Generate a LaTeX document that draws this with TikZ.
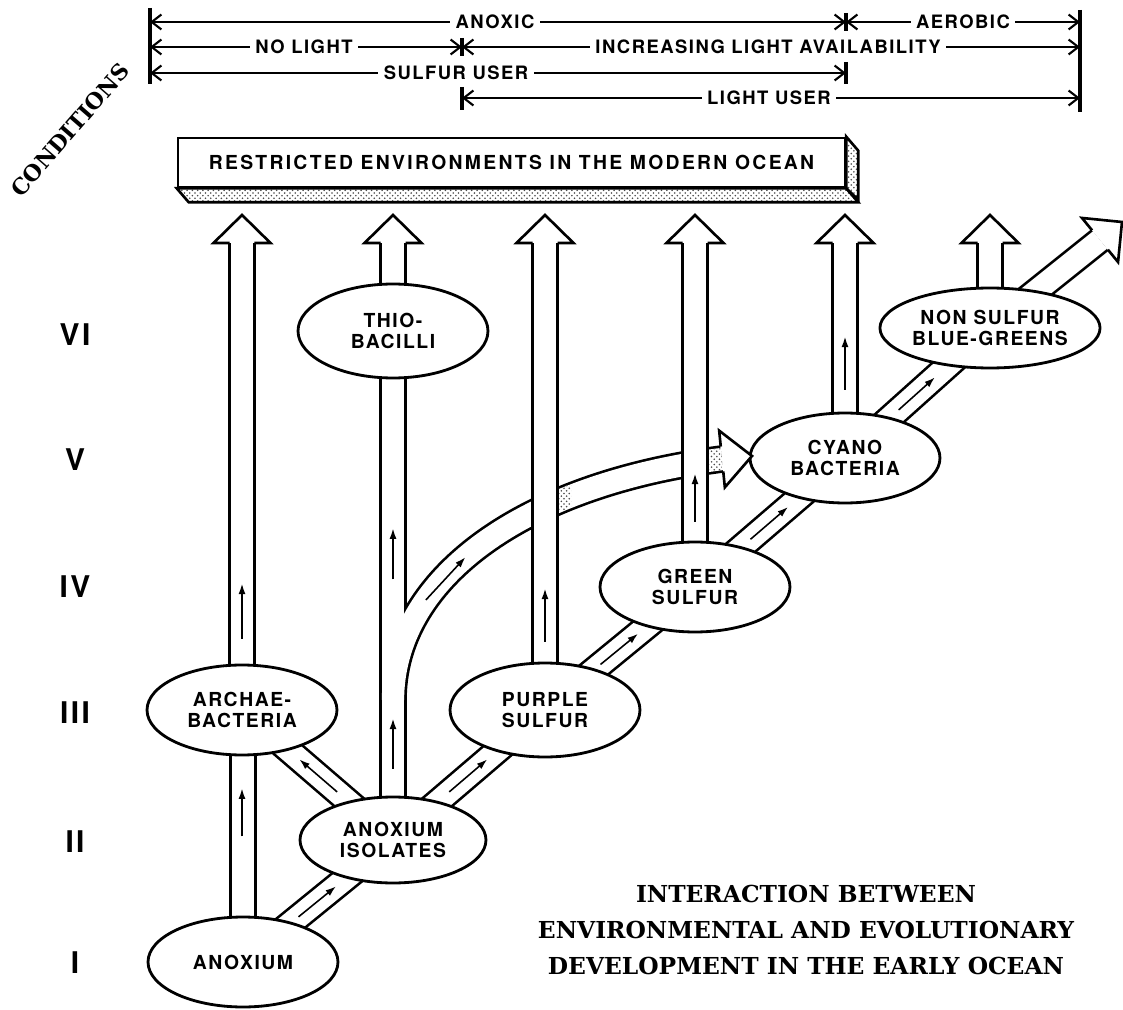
\documentclass[tikz,border=0pt]{standalone}
\usepackage{fontspec}
\usetikzlibrary{calc,shapes.geometric,arrows.meta,patterns}
\newfontfamily\lblfont[LetterSpace=8]{TeX Gyre Heros}
\newfontfamily\boxfont[LetterSpace=12]{TeX Gyre Heros}
\newfontfamily\ttlfont{DejaVu Serif}
\pgfdeclarelayer{tubeblack}
\pgfdeclarelayer{tubewhite}
\pgfdeclarelayer{shaftblack}
\pgfdeclarelayer{shaftwhite}
\pgfsetlayers{tubeblack,tubewhite,shaftblack,shaftwhite,main}

\tikzset{
  org/.style={ellipse, draw, fill=white, line width=1.6pt, minimum width=3.8cm, minimum height=1.8cm,
    inner sep=0pt, align=center, font=\lblfont\bfseries\fontsize{11}{11.5}\selectfont},
  tubeout/.style={line width=15.7pt, black},
  tubein/.style={line width=12.7pt, white},
  flow/.style={line width=0.9pt, -{Latex[length=6pt,width=4pt]}},
  dim/.style={line width=1.2pt, {Straight Barb[length=5.5pt,width=8.5pt]}-{Straight Barb[length=5.5pt,width=8.5pt]}},
  bar/.style={line width=1.8pt},
  scalelbl/.style={fill=white, inner xsep=3pt, inner ysep=1pt, font=\lblfont\bfseries\fontsize{10.5}{12}\selectfont},
  level/.style={font=\lblfont\bfseries\fontsize{17}{17}\selectfont},
  stipple/.style={pattern=crosshatch dots, pattern color=black!70}
}
\newcommand\hollowhead[2]{%
  \draw[fill=white, line width=1.5pt] ($(#1)!0.25cm!90:(#2)$) -- ($(#1)!0.57cm!90:(#2)$) -- (#2)
    -- ($(#1)!0.57cm!-90:(#2)$) -- ($(#1)!0.25cm!-90:(#2)$);}

\begin{document}
\begin{tikzpicture}[x=0.02cm, y=-0.02cm]
\useasboundingbox (0,0) rectangle (1123,1010);

% conditions scale
\draw[dim] (150,22) -- (846,22);
\draw[dim] (846,22) -- (1080,22);
\draw[dim] (150,47) -- (462,47);
\draw[dim] (462,47) -- (1080,47);
\draw[dim] (150,73) -- (846,73);
\draw[dim] (462,98) -- (1080,98);
\draw[bar] (150,8) -- (150,84);
\draw[bar] (1080,10) -- (1080,112);
\draw[bar] (462,38) -- (462,56);
\draw[bar] (462,87) -- (462,110);
\draw[bar] (846,13) -- (846,31);
\draw[bar] (846,62) -- (846,84);
\node[scalelbl] (anoxic) at (495,22) {ANOXIC};
\node[scalelbl] (aerobic) at (963,22) {AEROBIC};
\node[scalelbl] (nolight) at (304,47) {NO LIGHT};
\node[scalelbl] (inclight) at (768,47) {INCREASING LIGHT AVAILABILITY};
\node[scalelbl] (sulfuser) at (456,73) {SULFUR USER};
\node[scalelbl] (lightuser) at (769,98) {LIGHT USER};
\node[rotate=49, font=\ttlfont\bfseries\fontsize{12.5}{13}\selectfont] (cond) at (70,130) {CONDITIONS};

% modern ocean box
\node[draw, fill=white, line width=1.5pt, minimum width=13.34cm, minimum height=0.98cm, inner sep=0pt,
  font=\boxfont\bfseries\fontsize{11}{12}\selectfont] (box) at (511.5,162.5)
  {RESTRICTED ENVIRONMENTS IN THE MODERN OCEAN};
\draw[line width=1.5pt, stipple] (box.south west) -- (box.south east) -- ++(12,14)
  -- ($(box.south west)+(12,14)$) -- cycle;
\draw[line width=1.5pt, stipple] (box.north east) -- ++(12,14) -- ++(0,49) -- (box.south east) -- cycle;

% levels
\foreach \r/\y in {VI/335, V/460, IV/587, III/713, II/842, I/963}
  \node[level] (lev\r) at (75,\y) {\r};

% organisms
\node[org] (anox) at (243,962) {ANOXIUM};
\node[org, minimum width=3.72cm, minimum height=1.72cm] (iso) at (393,840) {ANOXIUM\\ISOLATES};
\node[org] (arch) at (242,710) {ARCHAE-\\BACTERIA};
\node[org, minimum height=1.88cm] (thio) at (393,331) {THIO-\\BACILLI};
\node[org, minimum height=1.88cm] (purp) at (545,710) {PURPLE\\SULFUR};
\node[org] (green) at (695,587) {GREEN\\SULFUR};
\node[org] (cyano) at (845,458) {CYANO\\BACTERIA};
\node[org, minimum width=4.3cm, minimum height=1.6cm] (nons) at (990,328) {NON SULFUR\\BLUE-GREENS};

\coordinate (hb) at (0,243);
\coordinate (ht) at (0,215);
\foreach \n in {arch,thio,purp,green,cyano,nons} {
  \coordinate (\n-b) at (\n |- hb);
  \coordinate (\n-t) at (\n |- ht);
}
\coordinate (fork) at ($(iso.center)+(0,-140)$);
\coordinate (bend) at (722,459);
\coordinate (nons-out) at (1100,240);

% tubes
\begin{pgfonlayer}{tubeblack}
\foreach \a/\b in {anox/iso, iso/arch, iso/purp, purp/green, green/cyano, cyano/nons, nons/nons-out}
  \draw[tubeout] (\a.center) -- (\b.center);
\draw[tubeout] (anox.center) -- (anox |- arch);
\draw[tubeout] (iso.center) -- (thio-b);
\foreach \n in {arch,cyano,nons}
  \draw[tubeout] (\n.center) -- (\n-b);
\draw[tubeout] (fork) .. controls +(0,-120) and +(-202,26) .. (bend);
\end{pgfonlayer}
\begin{pgfonlayer}{tubewhite}
\foreach \a/\b in {anox/iso, iso/arch, iso/purp, purp/green, green/cyano, cyano/nons, nons/nons-out}
  \draw[tubein] (\a.center) -- (\b.center);
\draw[tubein] (anox.center) -- (anox |- arch);
\draw[tubein] (iso.center) -- (thio-b);
\foreach \n in {arch,cyano,nons}
  \draw[tubein] (\n.center) -- (\n-b);
\draw[tubein] (fork) .. controls +(0,-120) and +(-202,26) .. (bend)
  coordinate[pos=0.3] (c1) coordinate[pos=0.45] (c2);
\end{pgfonlayer}
\begin{pgfonlayer}{shaftblack}
\foreach \n in {purp,green}
  \draw[tubeout] (\n.center) -- (\n-b);
\end{pgfonlayer}
\begin{pgfonlayer}{shaftwhite}
\foreach \n in {purp,green}
  \draw[tubein] (\n.center) -- (\n-b);
\end{pgfonlayer}

% shadows where the branch comes out
\fill[stipple] (559,487.5) -- (571,483.5) -- (571,508) -- (559,511.5) -- cycle;
\fill[stipple] (709.5,449.5) -- (722,448) -- (722,470) -- (709.5,472) -- cycle;

% hollow heads
\foreach \n in {arch,thio,purp,green,cyano,nons}
  \hollowhead{\n-b}{\n-t};
\hollowhead{nons-out}{1122,222}
\hollowhead{bend}{752,456}

% small flow arrows
\foreach \a/\b in {anox/iso, iso/arch, iso/purp, purp/green, green/cyano, cyano/nons}
  \draw[flow] ($(\a.center)!0.37!(\b.center)$) -- ($(\a.center)!0.62!(\b.center)$);
\draw[flow] ($(arch.south)+(0,80)$) -- ($(arch.south)+(0,32)$);
\draw[flow] ($(arch.north)+(0,-25)$) -- ($(arch.north)+(0,-80)$);
\draw[flow] ($(iso.north)+(0,-27)$) -- ($(iso.north)+(0,-77)$);
\draw[flow] ($(thio.south)+(0,200)$) -- ($(thio.south)+(0,149)$);
\draw[flow] ($(purp.north)+(0,-20)$) -- ($(purp.north)+(0,-73)$);
\draw[flow] ($(green.north)+(0,-19)$) -- ($(green.north)+(0,-67)$);
\draw[flow] ($(cyano.north)+(0,-22)$) -- ($(cyano.north)+(0,-75)$);
\draw[flow] (c1) -- (c2);

% title
\node[font=\ttlfont\bfseries\fontsize{13.3}{20.4}\selectfont, align=center] (title) at (806,930)
  {INTERACTION BETWEEN\\ENVIRONMENTAL AND EVOLUTIONARY\\DEVELOPMENT IN THE EARLY OCEAN};
\end{tikzpicture}
\end{document}
